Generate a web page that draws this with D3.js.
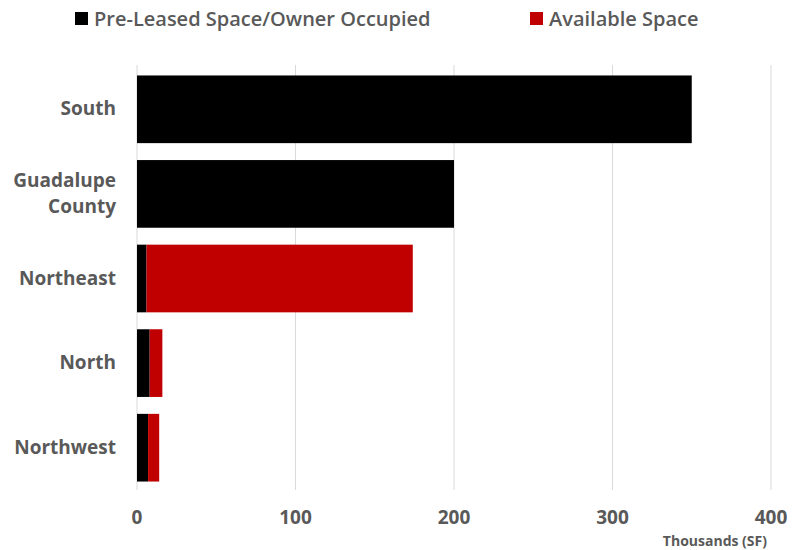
<!DOCTYPE html>
<html>
<head>
<meta charset="utf-8">
<script src="https://cdn.jsdelivr.net/npm/d3@7"></script>
<style>
  body { margin: 0; background: #fff; }
  text { font-family: "Open Sans", Lato, sans-serif; font-weight: bold; fill: #595959; }
</style>
</head>
<body>
<svg id="chart" width="799" height="550"></svg>
<script>
// Data (thousands SF)
const categories = ["South", "Guadalupe County", "Northeast", "North", "Northwest"];
const preLeased = [350, 200, 6, 8, 7];
const available = [0, 0, 168, 8, 7];
const seriesNames = ["Pre-Leased Space/Owner Occupied", "Available Space"];
const seriesColors = ["#000000", "#c00000"];
const xTicks = [0, 100, 200, 300, 400];

const svg = d3.select("#chart");

const x = d3.scaleLinear().domain([0, 400]).range([137, 771]);
const y = d3.scaleBand().domain(categories).range([67, 490]).paddingInner(0.2).paddingOuter(0.1);

// Gridlines
svg.append("g")
    .selectAll("line")
    .data(xTicks)
    .join("line")
    .attr("x1", d => x(d)).attr("x2", d => x(d))
    .attr("y1", 65).attr("y2", 490)
    .attr("stroke", "#d9d9d9")
    .attr("stroke-width", 1);

// Stacked bars
const rows = categories.map((c, i) => ({ cat: c, pre: preLeased[i], avail: available[i] }));
const stack = d3.stack().keys(["pre", "avail"])(rows);

svg.append("g")
    .selectAll("g")
    .data(stack)
    .join("g")
    .attr("fill", (d, i) => seriesColors[i])
    .selectAll("rect")
    .data(d => d.filter(s => s[1] > s[0]))
    .join("rect")
    .attr("x", d => x(d[0]))
    .attr("width", d => x(d[1]) - x(d[0]))
    .attr("y", d => y(d.data.cat))
    .attr("height", y.bandwidth());

// Category labels
const labels = svg.append("g")
    .selectAll("text")
    .data(categories)
    .join("text")
    .attr("text-anchor", "end")
    .attr("font-size", 19);

labels.each(function(d) {
    const t = d3.select(this);
    const cy = y(d) + y.bandwidth() / 2;
    const words = d === "Guadalupe County" ? ["Guadalupe", "County"] : [d];
    words.forEach((w, i) => {
        t.append("tspan")
            .attr("x", 116)
            .attr("y", cy + 6 + (i - (words.length - 1) / 2) * 26)
            .text(w);
    });
});

// X axis tick labels
svg.append("g")
    .selectAll("text")
    .data(xTicks)
    .join("text")
    .attr("x", d => x(d))
    .attr("y", 524)
    .attr("text-anchor", "middle")
    .attr("font-size", 19)
    .text(d => d);

svg.append("text")
    .attr("x", 767)
    .attr("y", 546)
    .attr("text-anchor", "end")
    .attr("font-size", 14)
    .text("Thousands (SF)");

// Legend
const legendX = [75, 530];
const legend = svg.append("g")
    .selectAll("g")
    .data(seriesNames)
    .join("g")
    .attr("transform", (d, i) => `translate(${legendX[i]},0)`);

legend.append("rect")
    .attr("x", 0).attr("y", 12)
    .attr("width", 13).attr("height", 13)
    .attr("fill", (d, i) => seriesColors[i]);

legend.append("text")
    .attr("x", 19).attr("y", 26)
    .attr("font-size", 20)
    .style("font-weight", 600)
    .text(d => d);
</script>
</body>
</html>
